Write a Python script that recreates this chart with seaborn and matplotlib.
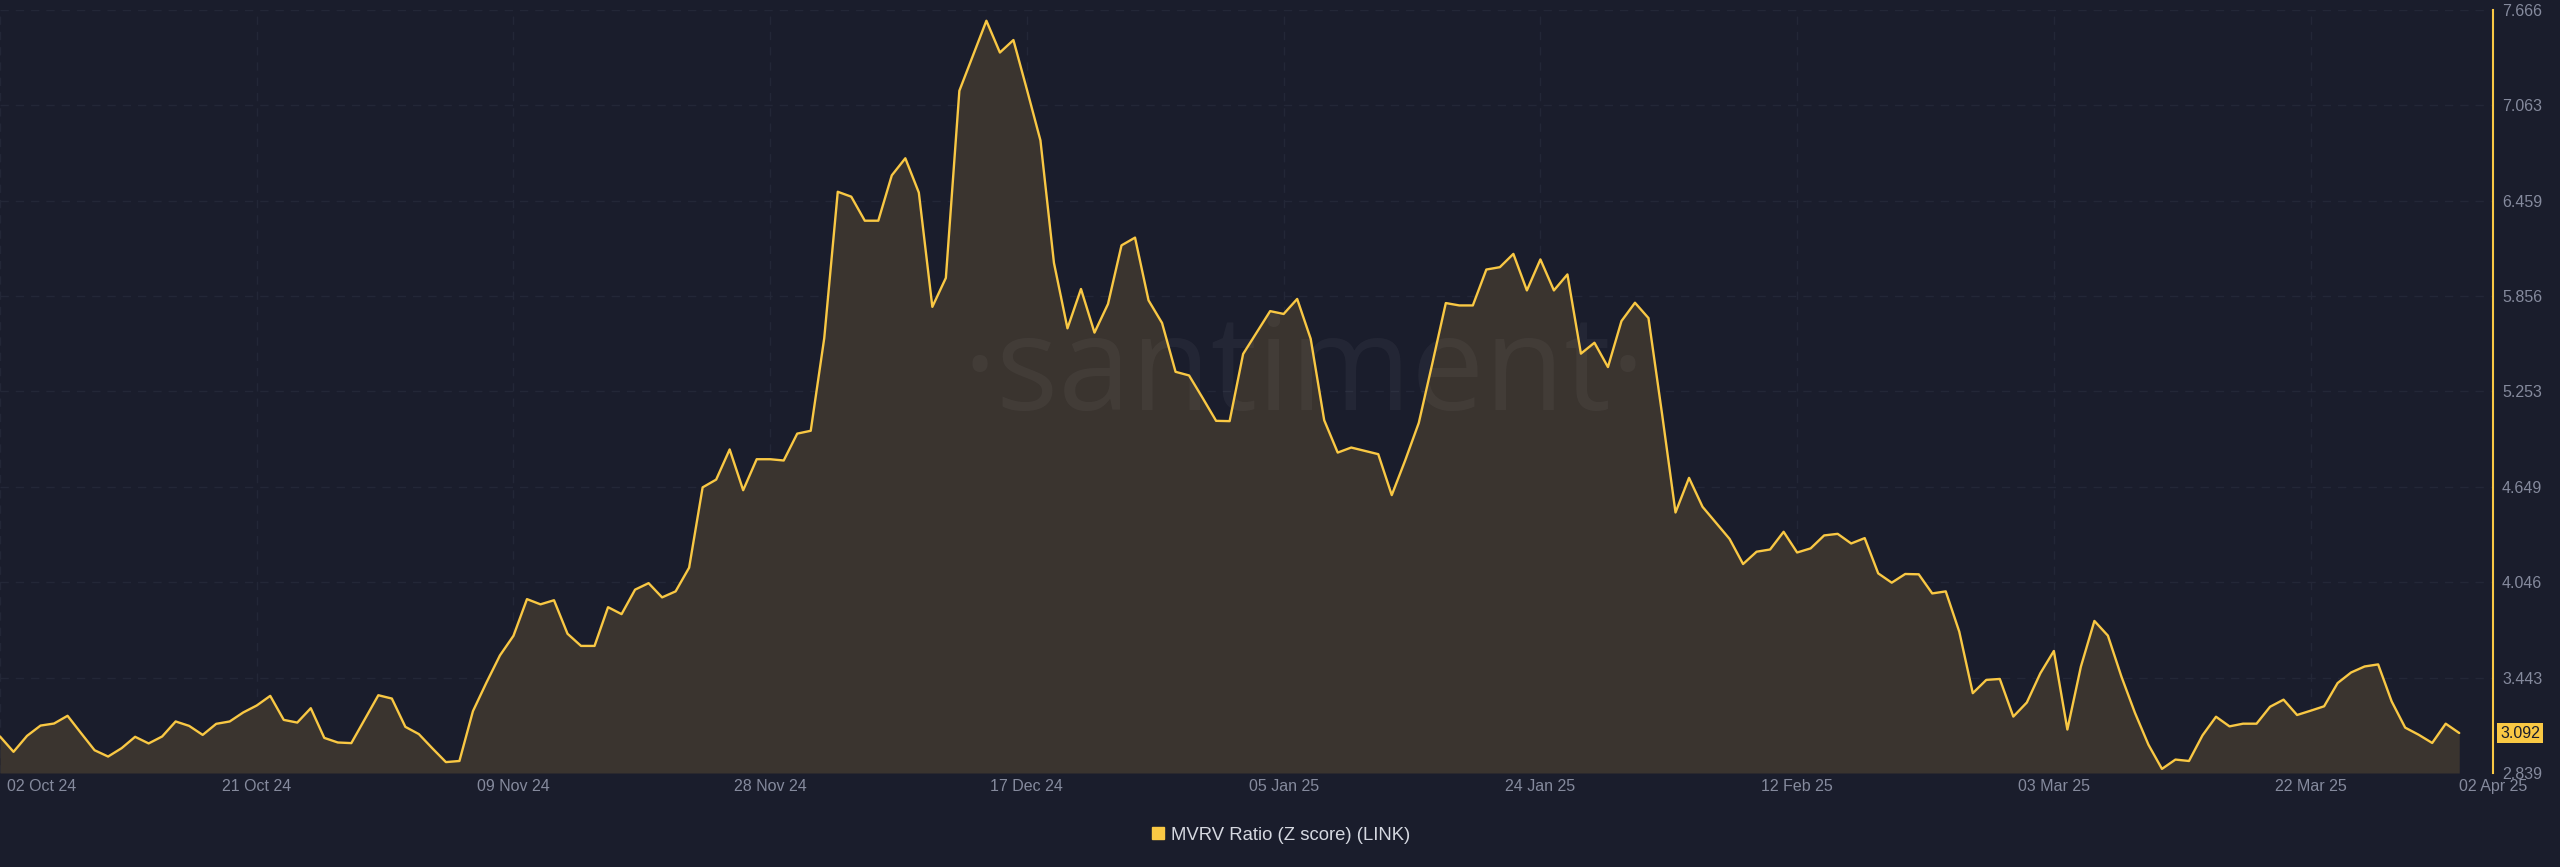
import numpy as np
import pandas as pd
import seaborn as sns
import matplotlib.pyplot as plt
import matplotlib.dates as mdates
from matplotlib.lines import Line2D
from matplotlib.transforms import ScaledTranslation

# MVRV Ratio (Z score) for LINK, daily from 02 Oct 24 to 02 Apr 25
start_date = '2024-10-02'
mvrv = [
    3.070, 2.973, 3.074, 3.139, 3.152, 3.201, 3.091, 2.983, 2.943, 2.996,
    3.068, 3.026, 3.070, 3.165, 3.137, 3.080, 3.150, 3.165, 3.222, 3.266,
    3.327, 3.175, 3.158, 3.249, 3.061, 3.032, 3.028, 3.179, 3.331, 3.310,
    3.131, 3.085, 2.995,
    2.908, 2.915, 3.230, 3.411, 3.583, 3.707, 3.939, 3.906, 3.932, 3.720,
    3.643, 3.643, 3.888, 3.844, 3.999, 4.040, 3.950, 3.988, 4.138, 4.646,
    4.695, 4.886, 4.628, 4.824, 4.824, 4.816, 4.986, 5.004, 5.590, 6.516,
    6.485, 6.333,
    6.333, 6.620, 6.728, 6.511, 5.788, 5.971, 7.155, 7.377, 7.598, 7.397,
    7.476, 7.162, 6.841, 6.066, 5.652, 5.901, 5.625, 5.806, 6.177, 6.226,
    5.829, 5.686, 5.377, 5.354, 5.212, 5.067, 5.065, 5.490, 5.625, 5.761,
    5.743, 5.838,
    5.586, 5.071, 4.866, 4.898, 4.877, 4.856, 4.597, 4.818, 5.054, 5.429,
    5.812, 5.797, 5.797, 6.024, 6.039, 6.123, 5.892, 6.088, 5.892, 5.993,
    5.492, 5.561, 5.407, 5.698, 5.814, 5.717, 5.113, 4.487, 4.706, 4.523,
    4.422, 4.320,
    4.161, 4.239, 4.253, 4.365, 4.234, 4.260, 4.342, 4.352, 4.291, 4.325,
    4.102, 4.043, 4.098, 4.096, 3.975, 3.988, 3.733, 3.344, 3.428, 3.434,
    3.196, 3.285, 3.470, 3.611, 3.114, 3.512, 3.801, 3.708, 3.449, 3.220,
    3.018, 2.865, 2.924, 2.915, 3.077, 3.195, 3.134, 3.151, 3.151, 3.258,
    3.303, 3.206, 3.233, 3.261, 3.408, 3.475, 3.513, 3.526, 3.292, 3.126,
    3.081, 3.029, 3.151, 3.092,
]
x_labels = ['02 Oct 24', '21 Oct 24', '09 Nov 24', '28 Nov 24', '17 Dec 24', '05 Jan 25',
            '24 Jan 25', '12 Feb 25', '03 Mar 25', '22 Mar 25', '02 Apr 25']
y_ticks = [2.839, 3.443, 4.046, 4.649, 5.253, 5.856, 6.459, 7.063, 7.666]
series_name = 'MVRV Ratio (Z score) (LINK)'

BG = '#1a1d2c'
FILL = '#3a342f'
GOLD = '#f9c844'
GRID = '#232737'
TICK = '#858a9d'

df = pd.DataFrame({'date': pd.date_range(start_date, periods=len(mvrv), freq='D'), 'mvrv': mvrv})
tick_dates = pd.to_datetime(x_labels, format='%d %b %y')

sns.set_theme(style='dark', rc={'axes.facecolor': BG, 'figure.facecolor': BG})
plt.rcParams['font.family'] = ['Liberation Sans Narrow', 'Liberation Sans', 'DejaVu Sans']

fig = plt.figure(figsize=(25.6, 8.67), dpi=100)
ax = fig.add_axes([0, 0.10842, 0.97383, 0.88005])

ymin, ymax = y_ticks[0], y_ticks[-1]
ax.fill_between(df['date'], df['mvrv'], ymin, color=FILL, lw=0, zorder=1)
sns.lineplot(data=df, x='date', y='mvrv', ax=ax, color=GOLD, linewidth=1.7, zorder=3)

# watermark
ax.text(0.523, 0.52, '\u00b7santiment\u00b7', transform=ax.transAxes, ha='center', va='center',
        fontsize=94, color='white', alpha=0.045, family=['Open Sans', 'DejaVu Sans'],
        zorder=2)

ax.set_xlim(df['date'].iloc[0], df['date'].iloc[0] + pd.Timedelta(days=184.5))
ax.set_ylim(ymin, ymax)

# grid
for d in tick_dates[:-1]:
    ax.axvline(d, color=GRID, lw=1, ls=(0, (6, 5)), zorder=0.5)
for v in y_ticks[1:]:
    ax.axhline(v, color=GRID, lw=1, ls=(0, (6, 5)), zorder=0.5)
ax.grid(False)

ax.yaxis.tick_right()
ax.set_yticks(y_ticks)
ax.set_yticklabels([f'{v:.3f}' for v in y_ticks])
ax.set_xticks(tick_dates)
ax.set_xticklabels(x_labels)
ax.tick_params(axis='y', length=0, pad=6.5, labelsize=11.5, labelcolor=TICK)
ax.tick_params(axis='x', length=0, pad=4.5, labelsize=11.5, labelcolor=TICK)
xt = ax.get_xticklabels()
xt[0].set_ha('left')
xt[0].set_transform(xt[0].get_transform() + ScaledTranslation(5 / 72, 0, fig.dpi_scale_trans))
xt[-1].set_ha('left')
ax.set_xlabel('')
ax.set_ylabel('')

for s in ['top', 'left', 'bottom']:
    ax.spines[s].set_visible(False)
ax.spines['right'].set_color(GOLD)
ax.spines['right'].set_linewidth(1.5)

# last value tag
last = mvrv[-1]
ax.text(1.0028, last, f'{last:.3f}', transform=ax.get_yaxis_transform(), ha='left', va='center',
        fontsize=11.5, color='#1a1d2c',
        bbox=dict(boxstyle='square,pad=0.18', facecolor=GOLD, edgecolor='none'), clip_on=False)

handle = Line2D([], [], marker='s', linestyle='', color=GOLD, markersize=8.5)
fig.legend([handle], [series_name], loc='center', bbox_to_anchor=(0.5, 1 - 835 / 867),
           frameon=False, handletextpad=0.3, handlelength=0.8,
           prop={'family': ['Liberation Sans', 'DejaVu Sans'], 'size': 13.3},
           labelcolor='#d5d8e0')

fig.savefig('out.png', dpi=100, facecolor=BG)
